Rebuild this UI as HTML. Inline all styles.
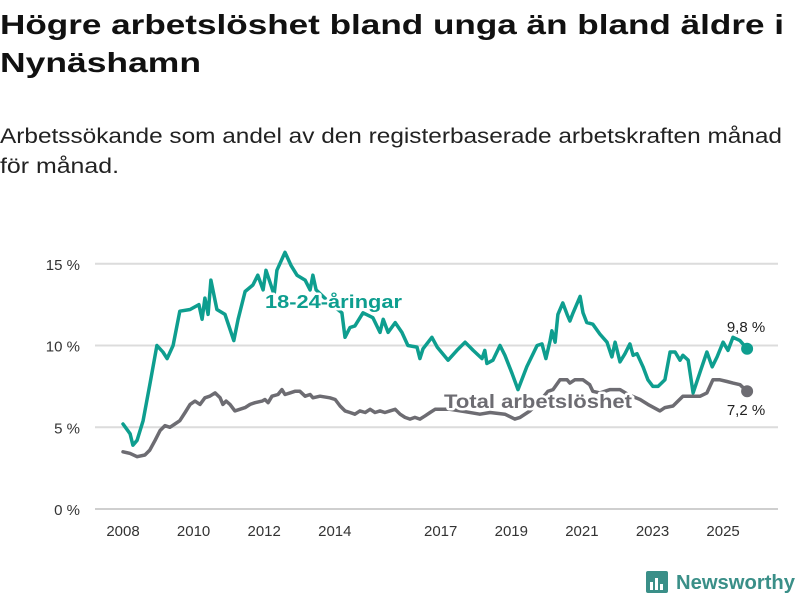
<!DOCTYPE html>
<html><head><meta charset="utf-8">
<style>
html,body{margin:0;padding:0;background:#fff;}
svg{display:block;font-family:"Liberation Sans",sans-serif;}
.halo{paint-order:stroke;stroke:#fff;stroke-width:5px;stroke-linejoin:round;}
</style></head>
<body>
<svg id="chart" width="800" height="600" viewBox="0 0 800 600">
<text x="0" y="34" font-size="28" font-weight="bold" fill="#111" textLength="784" lengthAdjust="spacingAndGlyphs">Högre arbetslöshet bland unga än bland äldre i</text>
<text x="0" y="72" font-size="28" font-weight="bold" fill="#111" textLength="201" lengthAdjust="spacingAndGlyphs">Nynäshamn</text>
<text x="0" y="143" font-size="21" fill="#222" textLength="782" lengthAdjust="spacingAndGlyphs">Arbetssökande som andel av den registerbaserade arbetskraften månad</text>
<text x="0" y="173" font-size="21" fill="#222" textLength="119" lengthAdjust="spacingAndGlyphs">för månad.</text>
<g id="grid"></g>
<g id="xaxis"></g>
<g id="series"></g>
<g id="labels"></g>
<g>
<rect x="646" y="571" width="22" height="22" rx="2" fill="#3a8f88"/>
<rect x="650" y="582" width="3" height="8" fill="#fff"/>
<rect x="655" y="578" width="3" height="12" fill="#fff"/>
<rect x="660" y="584" width="3" height="6" fill="#fff"/>
<text x="676" y="589" font-size="20" font-weight="bold" fill="#3a8f88" textLength="119" lengthAdjust="spacingAndGlyphs">Newsworthy</text>
</g>
</svg>
<script>
// Data: years offset from 2008 (decimal), values in percent
const youngT=[0,.20,.28,.40,.57,.76,.96,1.13,1.25,1.42,1.61,1.90,2.15,2.24,2.32,2.41,2.49,2.66,2.89,3.14,3.26,3.46,3.68,3.82,3.97,4.05,4.19,4.28,4.36,4.59,4.76,4.93,5.16,5.30,5.38,5.47,5.86,6.20,6.29,6.43,6.57,6.80,7.08,7.28,7.37,7.51,7.71,7.90,8.07,8.33,8.41,8.50,8.75,8.90,9.21,9.46,9.69,9.92,10.17,10.25,10.31,10.48,10.68,10.82,11.02,11.19,11.44,11.73,11.87,11.98,12.10,12.15,12.24,12.32,12.46,12.58,12.66,12.75,12.95,13.03,13.14,13.31,13.51,13.71,13.85,13.94,14.08,14.22,14.36,14.45,14.56,14.73,14.87,15.01,15.16,15.35,15.50,15.64,15.78,15.86,16.01,16.15,16.35,16.54,16.69,16.83,17.00,17.14,17.28,17.48,17.68];
const youngV=[5.2,4.6,3.9,4.2,5.4,7.6,10.0,9.6,9.2,10.0,12.1,12.2,12.5,11.6,12.9,11.9,14.0,12.2,11.9,10.3,11.6,13.3,13.7,14.3,13.4,14.6,13.7,13.1,14.6,15.7,14.9,14.3,14.0,13.4,14.3,13.4,12.6,12.0,10.5,11.1,11.2,12.0,11.7,10.8,11.6,10.8,11.4,10.8,10.0,9.9,9.2,9.8,10.5,9.9,9.1,9.7,10.2,9.7,9.2,9.7,8.9,9.1,10.0,9.4,8.3,7.3,8.7,10.0,10.1,9.2,10.3,10.9,10.2,11.9,12.6,11.9,11.5,12.0,13.0,12.0,11.4,11.3,10.7,10.2,9.3,10.2,9.0,9.5,10.1,9.4,9.5,8.7,7.9,7.5,7.5,7.9,9.6,9.6,9.1,9.4,9.1,7.1,8.4,9.6,8.7,9.3,10.2,9.7,10.5,10.3,9.8];
const totalT=[0,.20,.40,.62,.76,.91,1.05,1.19,1.33,1.47,1.61,1.76,1.90,2.04,2.18,2.32,2.46,2.61,2.75,2.83,2.92,3.03,3.17,3.31,3.46,3.60,3.74,3.94,4.02,4.11,4.22,4.39,4.50,4.59,4.73,4.87,5.01,5.16,5.30,5.38,5.58,5.86,6.01,6.15,6.29,6.43,6.57,6.71,6.86,7.00,7.14,7.28,7.42,7.56,7.71,7.85,7.99,8.13,8.27,8.41,8.56,8.70,8.84,8.98,9.26,9.69,10.11,10.40,10.82,11.10,11.25,11.53,11.81,12.04,12.18,12.38,12.58,12.66,12.80,13.03,13.22,13.31,13.51,13.80,14.08,14.31,14.65,14.87,15.21,15.35,15.58,15.86,16.15,16.35,16.54,16.71,16.91,17.11,17.28,17.48,17.68];
const totalV=[3.5,3.4,3.2,3.3,3.6,4.2,4.8,5.1,5.0,5.2,5.4,5.9,6.4,6.6,6.4,6.8,6.9,7.1,6.8,6.4,6.6,6.4,6.0,6.1,6.2,6.4,6.5,6.6,6.7,6.5,6.9,7.0,7.3,7.0,7.1,7.2,7.2,6.9,7.0,6.8,6.9,6.8,6.7,6.3,6.0,5.9,5.8,6.0,5.9,6.1,5.9,6.0,5.9,6.0,6.1,5.8,5.6,5.5,5.6,5.5,5.7,5.9,6.1,6.1,6.1,5.95,5.8,5.9,5.8,5.5,5.6,6.0,6.6,7.2,7.3,7.9,7.9,7.7,7.9,7.9,7.6,7.2,7.1,7.3,7.3,7.0,6.7,6.4,6.0,6.2,6.3,6.9,6.9,6.9,7.1,7.9,7.9,7.8,7.7,7.6,7.2];
const yTicks=[0,5,10,15];
const yTickLabels=["0 %","5 %","10 %","15 %"];
const xTicks=[2008,2010,2012,2014,2017,2019,2021,2023,2025];
const seriesNames=["18-24-åringar","Total arbetslöshet"];
const lastLabels=["9,8 %","7,2 %"];

const NS="http://www.w3.org/2000/svg";
const X=t=>123+t*35.3;            // t = years since 2008
const XY=y=>X(y-2008);
const Y=v=>509-v*16.35;
function mk(tag,attrs,parent){const e=document.createElementNS(NS,tag);for(const k in attrs)e.setAttribute(k,attrs[k]);parent.appendChild(e);return e;}

const grid=document.getElementById('grid');
yTicks.forEach((v,i)=>{
  const l=mk('line',{x1:95,x2:778,y1:Y(v),y2:Y(v),stroke:i===0?'#cfcfcf':'#dcdcdc','stroke-width':2},grid);
  
  
  const t=mk('text',{x:80,y:Y(v)+6,'text-anchor':'end','font-size':15,fill:'#333'},grid);
  t.textContent=yTickLabels[i];
  
  
});
const xa=document.getElementById('xaxis');
xTicks.forEach(yr=>{
  const t=mk('text',{x:XY(yr),y:536,'text-anchor':'middle','font-size':15,fill:'#333'},xa);
  t.textContent=yr;
  
  
});
const sg=document.getElementById('series');
function line(T,V,color,name){
  const d=T.map((t,i)=>(i?'L':'M')+X(t).toFixed(1)+','+Y(V[i]).toFixed(1)).join('');
  const p=mk('path',{d:d,fill:'none',stroke:color,'stroke-width':3.5,'stroke-linejoin':'round','stroke-linecap':'round'},sg);
  
  
  const n=T.length-1;
  const c=mk('circle',{cx:X(T[n]),cy:Y(V[n]),r:6,fill:color},sg);
  
  
}
line(totalT,totalV,'#6d6c72','total-line');
line(youngT,youngV,'#0e9e8f','young-line');

const lg=document.getElementById('labels');
const l1=mk('text',{x:265,y:308,'font-size':18,'font-weight':'bold',fill:'#0e9e8f',class:'halo',textLength:137,lengthAdjust:'spacingAndGlyphs'},lg);
l1.textContent=seriesNames[0];


const l2=mk('text',{x:444,y:408,'font-size':19,'font-weight':'bold',fill:'#6d6c72',class:'halo',textLength:188,lengthAdjust:'spacingAndGlyphs'},lg);
l2.textContent=seriesNames[1];


const e1=mk('text',{x:746,y:332,'text-anchor':'middle','font-size':15,fill:'#222',class:'halo'},lg);
e1.textContent=lastLabels[0];


const e2=mk('text',{x:746,y:415,'text-anchor':'middle','font-size':15,fill:'#222',class:'halo'},lg);
e2.textContent=lastLabels[1];


</script>
</body></html>
